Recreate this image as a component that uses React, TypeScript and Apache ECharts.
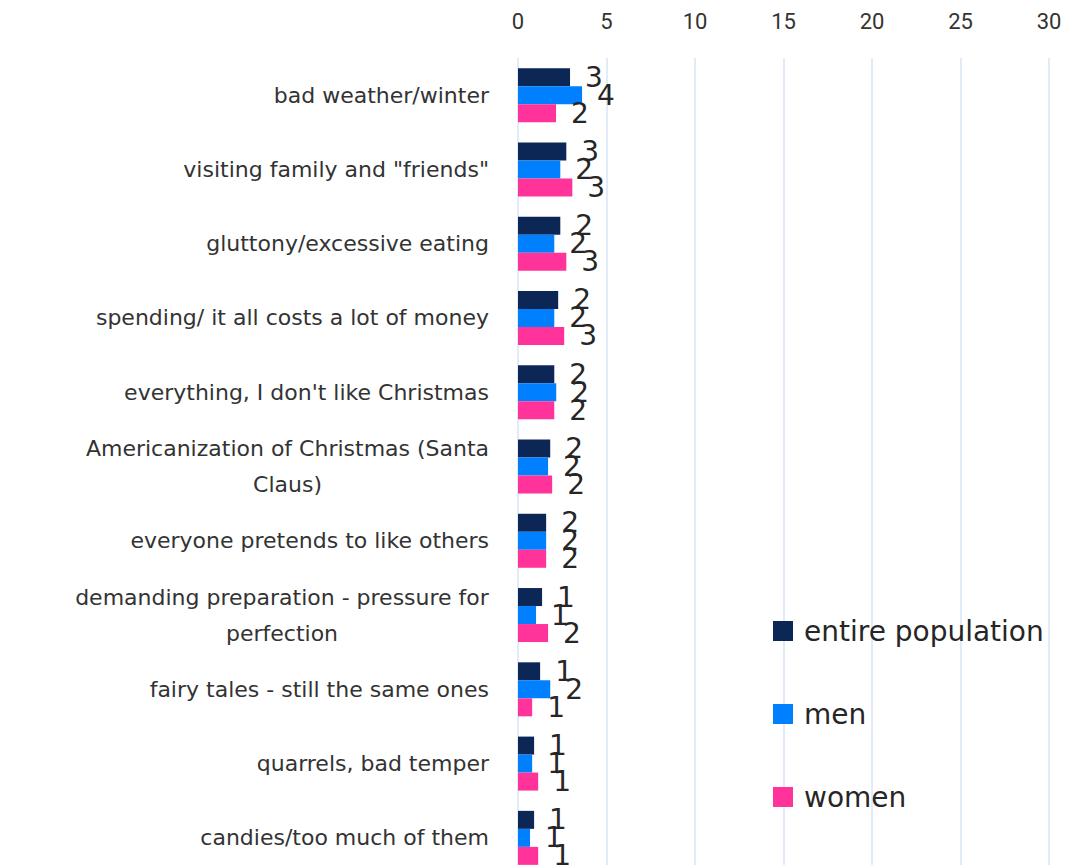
import React, { useEffect, useRef } from "react";
import * as echarts from "echarts";

const categories = [
  "bad weather/winter",
  "visiting family and \"friends\"",
  "gluttony/excessive eating",
  "spending/ it all costs a lot of money",
  "everything, I don't like Christmas",
  "Americanization of Christmas (Santa\nClaus)",
  "everyone pretends to like others",
  "demanding preparation - pressure for\nperfection",
  "fairy tales - still the same ones",
  "quarrels, bad temper",
  "candies/too much of them",
];

const entirePopulation = [2.94, 2.73, 2.39, 2.27, 2.05, 1.82, 1.59, 1.36, 1.25, 0.91, 0.91];
const men = [3.62, 2.39, 2.05, 2.05, 2.16, 1.7, 1.59, 1.02, 1.82, 0.8, 0.68];
const women = [2.15, 3.07, 2.73, 2.61, 2.05, 1.93, 1.59, 1.7, 0.8, 1.14, 1.14];

const seriesNames = ["entire population", "men", "women"];
const seriesColors = ["#0c2756", "#0080ff", "#ff3399"];
const xTicks = [0, 5, 10, 15, 20, 25, 30];

const FONT = "DejaVu Sans";
const CAT_SIZE = 22;

function measure(text: string, size: number): number {
  const c = document.createElement("canvas").getContext("2d");
  if (!c) return text.length * size * 0.6;
  c.font = `${size}px "${FONT}"`;
  return c.measureText(text).width;
}

export default function App() {
  const ref = useRef<HTMLDivElement>(null);
  useEffect(() => {
    if (!ref.current) return;
    const chart = echarts.init(ref.current, undefined, { renderer: "svg" });
    const data = [entirePopulation, men, women];
    chart.setOption({
      animation: false,
      backgroundColor: "#ffffff",
      textStyle: { fontFamily: FONT },
      grid: { left: 518, right: 42, top: 58, height: 817, containLabel: false, outerBoundsMode: "none" },
      legend: {
        orient: "vertical",
        left: 773,
        top: 614,
        itemWidth: 20,
        itemHeight: 20,
        itemGap: 49,
        icon: "rect",
        padding: 0,
        data: seriesNames,
        textStyle: { fontSize: 28, color: "#262626", fontFamily: FONT, lineHeight: 34, padding: [0, 0, 0, 6] },
      },
      xAxis: {
        type: "value",
        position: "top",
        min: xTicks[0],
        max: xTicks[xTicks.length - 1],
        interval: 5,
        axisLine: { show: false },
        axisTick: { show: false },
        axisLabel: { fontSize: 22, color: "#333333", margin: 26, fontFamily: "Roboto" },
        splitLine: { show: true, lineStyle: { color: "#d9e4f7", width: 1.5 } },
      },
      yAxis: {
        type: "category",
        inverse: true,
        data: categories,
        axisLine: { show: false },
        axisTick: { show: false },
        axisLabel: {
          fontSize: CAT_SIZE,
          color: "#333333",
          margin: 29,
          lineHeight: 36,
          formatter: (v: string) => {
            if (v.indexOf("\n") < 0) return v;
            const lines = v.split("\n");
            const w = Math.max(...lines.map((l) => measure(l, CAT_SIZE)));
            return lines.map((l) => `{c${Math.round(w)}|${l}}`).join("\n");
          },
          rich: (() => {
            const r: Record<string, any> = {};
            categories.forEach((cat) => {
              if (cat.indexOf("\n") >= 0) {
                const w = Math.round(Math.max(...cat.split("\n").map((l) => measure(l, CAT_SIZE))));
                r["c" + w] = { width: w, align: "center", fontSize: CAT_SIZE, lineHeight: 36, color: "#333333", fontFamily: FONT };
              }
            });
            return r;
          })(),
        },
      },
      series: seriesNames.map((name, i) => ({
        name,
        type: "bar",
        data: data[i],
        barWidth: 18,
        barGap: "0%",
        itemStyle: { color: seriesColors[i] },
        label: {
          show: true,
          position: "right",
          distance: 15,
          fontSize: 28,
          color: "#262626",
          fontFamily: FONT,
          formatter: (p: any) => String(Math.round(p.value)),
        },
      })),
    });
    return () => chart.dispose();
  }, []);
  return <div ref={ref} style={{ position: "fixed", left: 0, top: 0, width: 1091, height: 865 }} />;
}
